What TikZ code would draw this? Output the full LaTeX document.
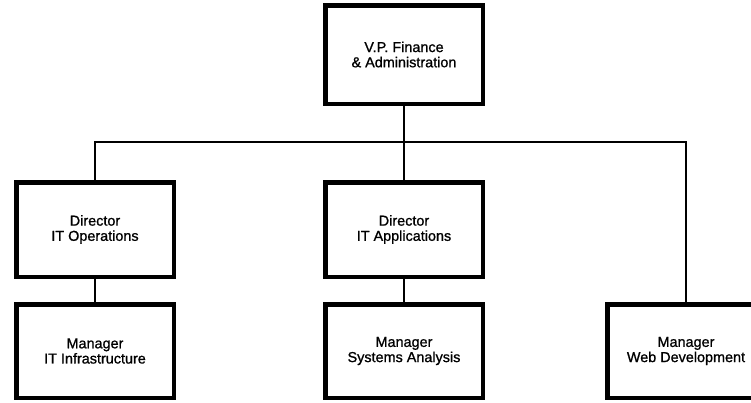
\documentclass[tikz,border=0pt]{standalone}
\usepackage{fontspec}
\setmainfont[FakeBold=1]{Liberation Sans}
\begin{document}
\begin{tikzpicture}[x=1pt,y=-1pt,
  box/.style={draw=black, line width=4.5pt, fill=white, minimum width=157.5pt,
    minimum height=94.5pt, align=center, inner sep=0pt,
    font=\fontsize{14.4}{15.2}\selectfont},
  link/.style={draw=black, line width=2pt}]
\clip (0,0) rectangle (751,402);
\fill[white] (0,0) rectangle (751,402);
\coordinate (bus) at (404,142);
\node[box, minimum height=98.5pt] (vp) at (404,54.5) {V.P. Finance\\\& Administration};
\node[box] (dops) at (95,229.5) {Director\\IT Operations};
\node[box] (dapp) at (404,229.5) {Director\\IT Applications};
\node[box, minimum height=93.5pt] (minf) at (95,351) {Manager\\IT Infrastructure};
\node[box, minimum height=93.5pt] (msys) at (404,351) {Manager\\Systems Analysis};
\node[box, minimum height=93.5pt] (mweb) at (686,351) {Manager\\Web Development};
\draw[link] (vp.south) -- (dapp.north);
\draw[link] (dops.north) |- (bus) -| (mweb.north);
\draw[link] (dops.south) -- (minf.north);
\draw[link] (dapp.south) -- (msys.north);
\end{tikzpicture}
\end{document}
